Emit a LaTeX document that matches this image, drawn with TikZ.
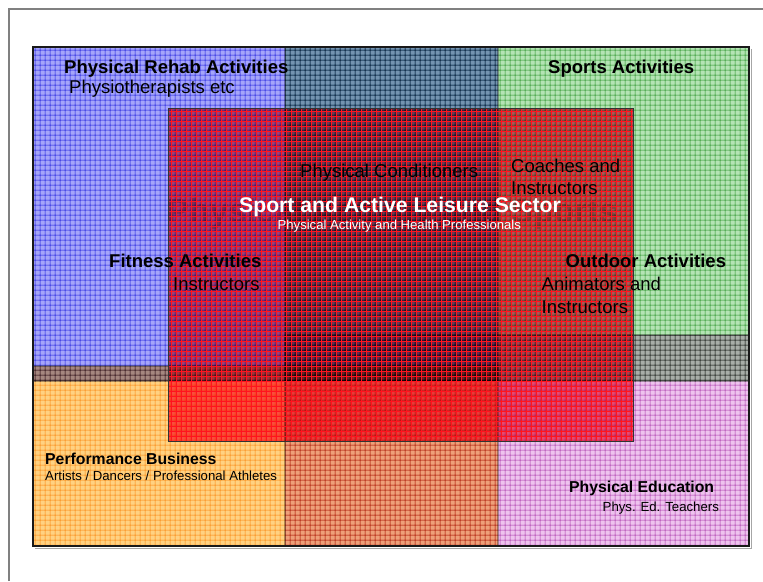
\documentclass[tikz,border=0pt]{standalone}
\usepackage{fontspec}
\setmainfont{Liberation Sans}
\usetikzlibrary{patterns.meta}

\definecolor{rehabfill}{RGB}{165,165,250}
\definecolor{rehabline}{RGB}{40,40,225}
\definecolor{sportfill}{RGB}{180,228,180}
\definecolor{sportline}{RGB}{50,160,50}
\definecolor{perffill}{RGB}{255,210,130}
\definecolor{perfline}{RGB}{250,160,20}
\definecolor{educfill}{RGB}{238,195,238}
\definecolor{educline}{RGB}{180,70,180}
\definecolor{sectfill}{RGB}{250,95,120}
\definecolor{sectline}{RGB}{255,20,30}

\begin{document}
\begin{tikzpicture}[x=1pt,y=-1pt,
    area/.style 2 args={fill=#1, draw=black!85, line width=0.7pt,
      postaction={pattern={Hatch[angle=0,distance=5pt,line width=0.5pt]},
        pattern color=#2}},
    sectrule/.style={sectline, line width=0.45pt},
    lbl/.style={anchor=base west, inner sep=0pt, text=black},
    bighead/.style={lbl, font=\fontsize{18.5}{22}\selectfont\bfseries},
    bigsub/.style={lbl, font=\fontsize{18.5}{22.5}\selectfont},
    smallhead/.style={lbl, font=\fontsize{15.8}{19}\selectfont\bfseries},
    smallsub/.style={lbl, font=\fontsize{13.2}{16}\selectfont}]
  \useasboundingbox (0,0) rectangle (763,581);
  % page edge
  \draw[gray, line width=1.5pt] (9,581) -- (9,9) -- (763,9);
  % the four corner areas and the sector, darker where they overlap
  \begin{scope}[blend group=multiply]
    \path[area={sportfill}{sportline}] (285,47) rectangle (749,381);
    \path[area={rehabfill}{rehabline}] (33,47) rectangle (498,381);
    \path[area={educfill}{educline}] (285,335) rectangle (749,546);
    \path[area={perffill}{perfline}] (33,366) rectangle (498,546);
    % faded title under the sector
    \node[anchor=base, inner sep=0pt, text=black!22,
      font=\fontsize{33.5}{40}\selectfont\bfseries] (bgtitle) at (392,222)
      {Physical Activity and Sports};
    \path[fill=sectfill] (168,108) rectangle (633,441);
  \end{scope}
  % red grid over the sector
  \foreach \x in {171,176,...,631} \draw[sectrule] (\x,108) -- (\x,441);
  \foreach \y in {111,116,...,440} \draw[sectrule] (168,\y) -- (633,\y);
  \draw[black!80, line width=0.7pt] (168,108) rectangle (633,441);
  % frame
  \draw[gray!70, line width=1pt] (35,548) -- (751,548) -- (751,49);
  \draw[black!90, line width=1.5pt] (33,47) rectangle (749,546);

  \node[bighead] (rehab) at (64,73) {Physical Rehab Activities};
  \node[bigsub] (physio) at (69,93) {Physiotherapists etc};
  \node[bighead] (sports) at (548,73) {Sports Activities};
  \node[bigsub] (cond) at (300,177) {Physical Conditioners};
  \node[bigsub, align=left] (coach) at (511,194.5) {Coaches and\\Instructors};
  \node[anchor=base west, inner sep=0pt, text=white,
    font=\fontsize{21.2}{25}\selectfont\bfseries] (sector) at (239,212)
    {Sport and Active Leisure Sector};
  \node[anchor=base west, inner sep=0pt, text=white,
    font=\fontsize{13.1}{16}\selectfont] (prof) at (277.5,229.5)
    {Physical Activity and Health Professionals};
  \node[bighead] (fitness) at (109,267) {Fitness Activities};
  \node[bigsub] (instr) at (173,290) {Instructors};
  \node[bighead] (outdoor) at (565.5,267) {Outdoor Activities};
  \node[bigsub, align=left] (anim) at (541.5,313) {Animators and\\Instructors};
  \node[smallhead] (perf) at (45,464) {Performance Business};
  \node[smallsub] (artists) at (45,480) {Artists / Dancers / Professional Athletes};
  \node[smallhead] (educ) at (569,492) {Physical Education};
  \node[smallsub] (teach) at (602.5,511) {Phys. Ed. Teachers};
\end{tikzpicture}
\end{document}
